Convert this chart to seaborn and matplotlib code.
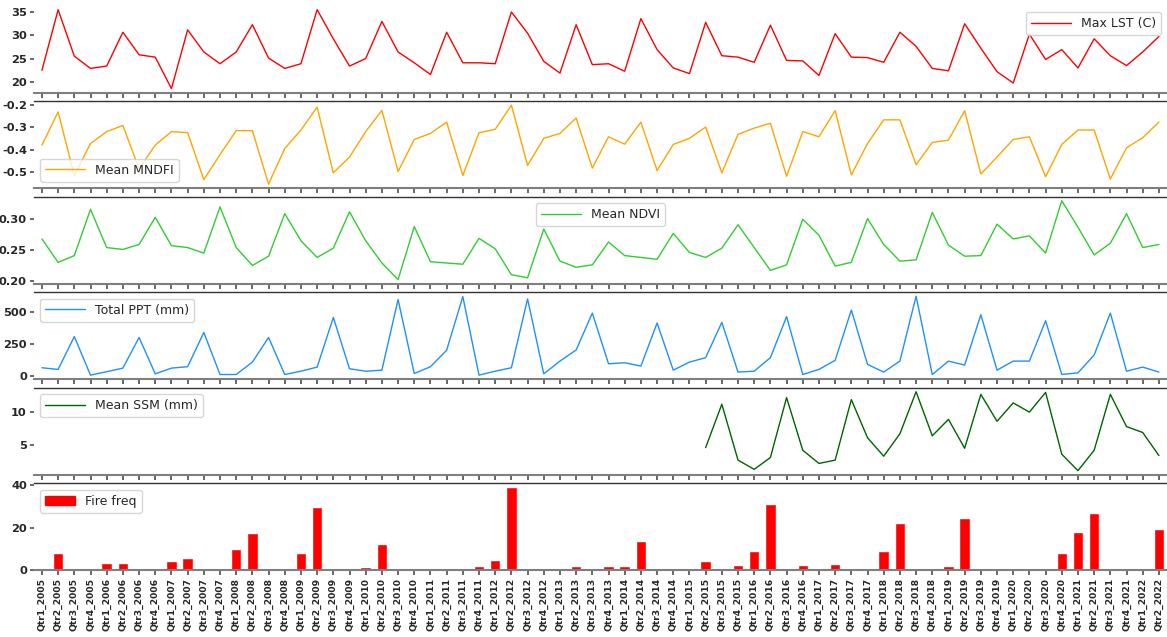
import numpy as np
import pandas as pd
import matplotlib
matplotlib.use("Agg")
import matplotlib.pyplot as plt
import seaborn as sns
from matplotlib.patches import Patch
from matplotlib.ticker import MultipleLocator, FormatStrFormatter

years = list(range(2005, 2023))
quarters = [f"Qtr{q}_{y}" for y in years for q in (1, 2, 3, 4)][:70]

max_lst = [22.5, 35.4, 25.5, 22.9, 23.4, 30.6, 25.8, 25.3, 18.6, 31.1,
           26.4, 23.9, 26.4, 32.2, 25.1, 22.9, 23.9, 35.4, 29.2, 23.4,
           25.0, 32.9, 26.4, 24.1, 21.6, 30.6, 24.1, 24.1, 23.9, 34.9,
           30.4, 24.4, 21.9, 32.2, 23.7, 23.9, 22.3, 33.5, 26.9, 23.0,
           21.8, 32.7, 25.6, 25.3, 24.2, 32.1, 24.6, 24.5, 21.4, 30.3,
           25.3, 25.2, 24.2, 30.6, 27.6, 22.9, 22.4, 32.4, 27.2, 22.2,
           19.8, 30.2, 24.8, 26.9, 23.0, 29.2, 25.6, 23.5, 26.4, 29.7]

mean_mndfi = [-0.380, -0.233, -0.515, -0.373, -0.320, -0.293, -0.485, -0.380, -0.320, -0.325,
              -0.533, -0.422, -0.316, -0.316, -0.553, -0.395, -0.313, -0.212, -0.503, -0.433,
              -0.320, -0.226, -0.497, -0.355, -0.328, -0.278, -0.515, -0.325, -0.310, -0.203,
              -0.470, -0.350, -0.328, -0.260, -0.482, -0.343, -0.376, -0.278, -0.493, -0.377,
              -0.350, -0.300, -0.503, -0.332, -0.305, -0.283, -0.518, -0.320, -0.343, -0.227,
              -0.512, -0.373, -0.268, -0.268, -0.467, -0.368, -0.358, -0.227, -0.508, -0.433,
              -0.355, -0.343, -0.520, -0.377, -0.313, -0.313, -0.530, -0.392, -0.347, -0.278]

mean_ndvi = [0.268, 0.230, 0.241, 0.316, 0.254, 0.251, 0.259, 0.303, 0.257, 0.254,
             0.245, 0.320, 0.254, 0.225, 0.240, 0.309, 0.265, 0.238, 0.253, 0.312,
             0.265, 0.229, 0.202, 0.288, 0.231, 0.229, 0.227, 0.269, 0.252, 0.210,
             0.205, 0.284, 0.232, 0.222, 0.226, 0.263, 0.241, 0.238, 0.235, 0.277,
             0.246, 0.238, 0.253, 0.291, 0.254, 0.217, 0.226, 0.300, 0.274, 0.224,
             0.230, 0.301, 0.259, 0.232, 0.234, 0.311, 0.258, 0.240, 0.241, 0.292,
             0.268, 0.273, 0.245, 0.330, 0.287, 0.242, 0.261, 0.309, 0.254, 0.259]

total_ppt = [66, 53, 310, 8, 35, 63, 303, 18, 63, 74,
             342, 13, 13, 110, 303, 13, 39, 71, 460, 58,
             39, 47, 600, 21, 74, 203, 623, 8, 39, 66,
             605, 18, 118, 205, 494, 97, 105, 79, 416, 47,
             110, 145, 421, 32, 39, 145, 466, 13, 53, 124,
             518, 92, 32, 118, 626, 13, 118, 87, 481, 47,
             118, 118, 434, 13, 26, 166, 494, 39, 71, 32]

mean_ssm = [np.nan] * 41 + [4.6, 11.2, 2.7, 1.3, 3.1, 12.2, 4.2, 2.2, 2.7, 11.9,
                           6.1, 3.3, 6.7, 13.1, 6.4, 8.9, 4.5, 12.7, 8.6, 11.4,
                           10.0, 13.0, 3.6, 1.1, 4.2, 12.7, 7.8, 6.9, 3.4]

fire_freq = [0, 8, 0, 0, 3.5, 3.5, 0, 0, 4.5, 5.5,
             0, 0, 10, 17.5, 0, 1, 8, 30, 0, 0,
             1.5, 12.5, 0, 0, 0, 0, 0, 2, 5, 39,
             0, 0, 0, 2, 0, 2, 2, 13.5, 0, 1,
             1.2, 4.5, 0, 2.5, 9, 31, 0, 2.5, 0.5, 3,
             0, 0, 9, 22, 0, 0, 2, 24.5, 0, 0,
             0.5, 0.5, 0, 8, 18, 27, 0, 0, 1, 19.5]

idx = np.arange(len(quarters))
df = pd.DataFrame({"idx": idx, "quarter": quarters, "lst": max_lst, "mndfi": mean_mndfi,
                   "ndvi": mean_ndvi, "ppt": total_ppt, "ssm": mean_ssm, "fire": fire_freq})

sns.set_theme(style="ticks")
plt.rcParams["font.family"] = ["DejaVu Sans"]
plt.rcParams["axes.unicode_minus"] = False

fig, axes = plt.subplots(6, 1, figsize=(11.67, 6.37), dpi=100, sharex=True)
fig.subplots_adjust(left=0.029, right=1.0, top=0.991, bottom=0.105, hspace=0.1)

series = [("lst", "Max LST (C)", "red", "upper right"),
          ("mndfi", "Mean MNDFI", "orange", "lower left"),
          ("ndvi", "Mean NDVI", "limegreen", "upper center"),
          ("ppt", "Total PPT (mm)", "dodgerblue", "upper left"),
          ("ssm", "Mean SSM (mm)", "darkgreen", "upper left")]

for ax, (col, lab, colr, loc) in zip(axes[:5], series):
    sns.lineplot(data=df, x="idx", y=col, ax=ax, color=colr, linewidth=1.0, label=lab)
    ax.legend(loc=loc, fontsize=9, frameon=True, handlelength=3.2)

sns.barplot(data=df, x="idx", y="fire", ax=axes[5], color="red", width=0.65,
            saturation=1.0)
axes[5].legend(handles=[Patch(color="red", label="Fire freq")], loc="upper left",
               fontsize=9, handlelength=2.4)

axes[0].yaxis.set_major_locator(MultipleLocator(5))
axes[1].yaxis.set_major_locator(MultipleLocator(0.1))
axes[2].yaxis.set_major_locator(MultipleLocator(0.05))
axes[2].yaxis.set_major_formatter(FormatStrFormatter("%.2f"))
axes[3].yaxis.set_major_locator(MultipleLocator(250))
axes[4].yaxis.set_major_locator(MultipleLocator(5))
axes[4].set_ylim(0.5, 13.7)
axes[5].yaxis.set_major_locator(MultipleLocator(20))

for i, ax in enumerate(axes):
    ax.set_xlabel("")
    ax.set_ylabel("")
    ax.spines["left"].set_visible(False)
    ax.spines["right"].set_visible(False)
    ax.spines["bottom"].set_color("#7f7f7f")
    ax.spines["bottom"].set_linewidth(1.5)
    ax.spines["top"].set_color("#333333")
    ax.spines["top"].set_linewidth(1.0)
    if i == 0:
        ax.spines["top"].set_visible(False)
    ax.tick_params(axis="y", labelsize=8.2, length=3, color="#555555", pad=2)
    ax.tick_params(axis="x", length=3.5, color="#555555")
    for t in ax.get_yticklabels():
        t.set_fontweight("bold")

axes[5].set_xlim(-0.5, len(quarters) - 0.5)
axes[5].set_xticks(idx)
axes[5].set_xticklabels(quarters, rotation=90, fontsize=6.6, fontweight="bold")
axes[5].tick_params(axis="x", pad=2)

fig.savefig("out.png", dpi=100)
